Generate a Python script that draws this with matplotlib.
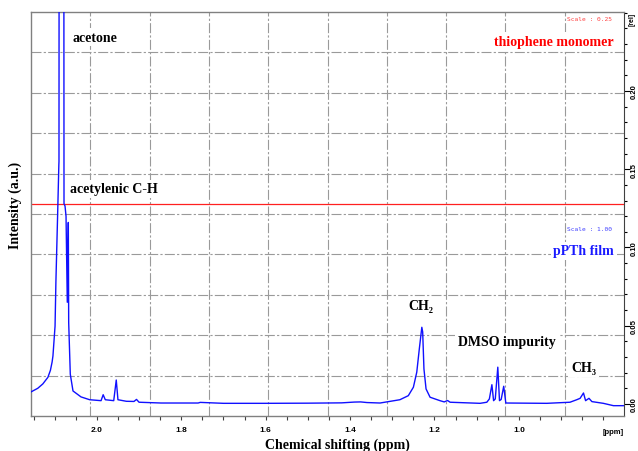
import matplotlib
matplotlib.use("Agg")
import matplotlib.pyplot as plt
from matplotlib.ticker import FixedLocator, NullFormatter, FixedFormatter

# ---- data ----
ppm = [2.156, 2.140, 2.128, 2.116, 2.110, 2.106, 2.104, 2.099, 2.097, 2.093, 2.0900, 2.0897,
       2.084,
       2.0778, 2.0754, 2.073, 2.070, 2.0676, 2.0667, 2.0629, 2.0565, 2.0375, 2.017,
       1.990, 1.985, 1.980, 1.970, 1.960, 1.954, 1.950, 1.930, 1.912, 1.906, 1.900,
       1.848, 1.760, 1.755, 1.700, 1.600, 1.500, 1.420, 1.390, 1.375, 1.360, 1.329,
       1.282, 1.262, 1.250, 1.242, 1.236, 1.230, 1.228, 1.225, 1.220, 1.2105, 1.187,
       1.177, 1.169, 1.163, 1.092, 1.076, 1.070, 1.064, 1.060, 1.056, 1.050, 1.046,
       1.042, 1.036, 1.031, 0.934, 0.879, 0.863, 0.855, 0.847, 0.842, 0.834, 0.827,
       0.800, 0.776, 0.751]
intensity = [0.0077, 0.0100, 0.0128, 0.0170, 0.0215, 0.0268, 0.0307, 0.0498, 0.0780, 0.1200, 0.1530, 0.1550,
             3.0,
             0.1280, 0.1265, 0.1200, 0.0650, 0.1160, 0.0520, 0.0190, 0.0083, 0.0045, 0.0027,
             0.0021, 0.0059, 0.0027, 0.0024, 0.0021, 0.0153, 0.0027, 0.0017, 0.0016, 0.0029, 0.0011,
             0.0006, 0.0006, 0.0010, 0.0004, 0.0004, 0.0005, 0.0007, 0.0012, 0.0013, 0.0009, 0.0006,
             0.0027, 0.0053, 0.0107, 0.0203, 0.0351, 0.0490, 0.0460, 0.0224, 0.0096, 0.0043, 0.0021,
             0.0013, 0.0022, 0.0011, 0.0004, 0.0011, 0.0032, 0.0123, 0.0021, 0.0032, 0.0235, 0.0021,
             0.0029, 0.0113, 0.0006, 0.0004, 0.0011, 0.0027, 0.0036, 0.0070, 0.0021, 0.0036, 0.0015,
             0.0004, -0.0011, -0.0011]
monomer_ppm = [2.156, 0.751]
monomer_int = [0.128, 0.128]

xtick_vals = [2.0, 1.8, 1.6, 1.4, 1.2, 1.0]
xtick_labels = ["2.0", "1.8", "1.6", "1.4", "1.2", "1.0"]
ytick_vals = [0.00, 0.05, 0.10, 0.15, 0.20]
ytick_labels = ["0.00", "0.05", "0.10", "0.15", "0.20"]

# ---- figure ----
fig = plt.figure(figsize=(6.38, 4.52), dpi=100)
ax = fig.add_axes([31/638, 35/452, 593/638, 404/452])
ax.set_xlim(2.156, 0.751)
ax.set_ylim(-0.0077, 0.2505)

# grid (10 x 10 divisions)
gkw = dict(color="#9a9a9a", lw=0.8, ls=(0, (9, 2, 2, 2)), transform=ax.transAxes, zorder=0)
for i in range(1, 10):
    ax.plot([i/10, i/10], [0, 1], **gkw)
    ax.plot([0, 1], [i/10, i/10], **gkw)

ax.plot(monomer_ppm, monomer_int, color="#ff2020", lw=0.9, zorder=2)
ax.plot(ppm, intensity, color="#1010ff", lw=1.0, zorder=3)

for s in ["left", "top", "bottom"]:
    ax.spines[s].set_color("#808080")
    ax.spines[s].set_linewidth(1.0)
ax.spines["right"].set_color("#404040")

# x ticks: every 0.05, labels only at the listed values
all_x = [round(2.15 - 0.05*i, 2) for i in range(28)]
ax.xaxis.set_major_locator(FixedLocator(xtick_vals))
ax.xaxis.set_major_formatter(FixedFormatter(xtick_labels))
ax.xaxis.set_minor_locator(FixedLocator([v for v in all_x if v not in xtick_vals]))
ax.xaxis.set_minor_formatter(NullFormatter())
ax.tick_params(axis="x", which="both", direction="out", length=3, width=0.8, color="#404040",
               labelsize=6, pad=4)
for lab in ax.get_xticklabels():
    lab.set_fontweight("bold")
    lab.set_fontfamily("Liberation Sans")

# y ticks on right
ax.yaxis.tick_right()
ax.yaxis.set_major_locator(FixedLocator(ytick_vals))
ax.yaxis.set_major_formatter(FixedFormatter(ytick_labels))
ax.yaxis.set_minor_locator(FixedLocator([round(0.01*i, 2) for i in range(0, 26)]))
ax.yaxis.set_minor_formatter(NullFormatter())
ax.tick_params(axis="y", which="major", direction="out", length=4, width=0.8,
               labelsize=5.5, pad=1, labelrotation=90)
ax.tick_params(axis="y", which="minor", direction="out", length=2.5, width=0.8)
for lab in ax.get_yticklabels():
    lab.set_fontweight("bold")
    lab.set_fontfamily("Liberation Sans")
    lab.set_va("center")

ax.text(1.007, 0.985, "[rel]", transform=ax.transAxes, rotation=90, fontsize=5,
        fontweight="bold", family="Liberation Sans", ha="left", va="center")
ax.text(0.982, -0.03, "[ppm]", transform=ax.transAxes, fontsize=5.5,
        fontweight="bold", family="Liberation Sans", ha="center", va="top")

serif = ["Liberation Serif", "DejaVu Serif"]
wbox = dict(facecolor="white", edgecolor="none", pad=2)

fig.text(0.5 * (264 + 411) / 638, 1 - 445/452, "Chemical shifting (ppm)", fontsize=10,
         fontweight="bold", family=serif, ha="center", va="center")
fig.text(15/638, 1 - 205/452, "Intensity (a.u.)", fontsize=10, rotation=90,
         fontweight="bold", family=serif, ha="center", va="center")

def lab(xp, yp, s, color="black", ha="left", size=10):
    ax.text(xp, yp, s, color=color, fontsize=size, fontweight="bold", family=serif,
            ha=ha, va="center", transform=ax.transData, bbox=wbox, zorder=4)

def px(x, y):
    return 2.156 - (x - 31)/422, (405 - y)*0.000639

lab(*px(72, 38), "acetone")
lab(*px(70, 190), "acetylenic C-H")
lab(*px(614, 42), "thiophene monomer", color="#ff0000", ha="right")
lab(*px(614, 252), "pPTh film", color="#1a1aff", ha="right")
lab(*px(408, 307), "CH₂")
lab(*px(458, 343), "DMSO impurity")
lab(*px(571, 369), "CH₃")

ax.text(*px(612, 19), "Scale : 0.25", color="#ff4040", fontsize=4.5,
        family="DejaVu Sans Mono", ha="right", va="center")
ax.text(*px(612, 230), "Scale : 1.00", color="#4040ff", fontsize=4.5,
        family="DejaVu Sans Mono", ha="right", va="center")

fig.savefig("out.png", dpi=100)
